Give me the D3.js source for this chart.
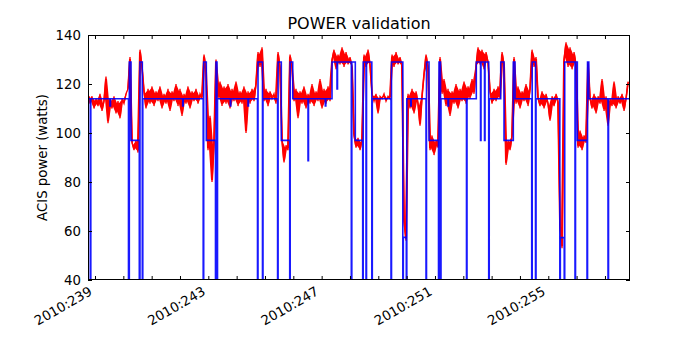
<!DOCTYPE html>
<html><head><meta charset="utf-8">
<script src="https://cdn.jsdelivr.net/npm/d3@7"></script>
<style>body{margin:0;background:#fff} svg{display:block} text{font-family:"DejaVu Sans",sans-serif;fill:#000}</style>
</head><body><svg id="c" width="700" height="350"></svg>
<script>
const title = "POWER validation";
const yLabel = "ACIS power (watts)";
const yTicks = [40, 60, 80, 100, 120, 140];
const dayTicks = [239,240,241,242,243,244,245,246,247,248,249,250,251,252,253,254,255,256,257];
const labelDays = [239, 243, 247, 251, 255];
const yearPrefix = "2010";
const xDomain = [238.753, 257.884];
const yDomain = [40, 140];

// measured power (red), sampled every redStep days from redStart
const redStart = 238.753, redStep = 0.0706;
const redPower = [
  116,112,115,110,114,111,116,109,113,123,104,114,110,115,108,113,106,114,112,116,
  118,131,
  96,93,97,92,
  134,127,
  117,110,118,112,119,111,117,113,119,110,116,112,118,109,117,113,120,111,118,107,116,112,119,110,117,113,118,112,116,114,
  132,126,
  93,107,80,96,
  130,
  114,121,111,119,112,120,110,118,113,121,111,117,112,119,100,117,112,118,113,120,
  133,127,135,
  113,118,111,117,114,116,112,
  133,127,
  97,88,95,93,
  132,127,
  113,118,106,117,112,119,110,116,112,120,111,117,113,122,110,118,112,119,113,
  130,134,126,132,128,135,127,133,128,131,
  127,99,
  94,98,93,97,
  132,127,134,128,
  116,113,116,108,115,114,116,113,115,114,
  132,127,133,128,131,127,
  64,56,
  116,110,118,108,117,112,103,115,124,
  132,127,
  93,99,91,97,94,
  131,
  116,122,111,118,107,117,112,120,110,118,113,121,112,119,114,122,116,
  127,135,128,134,126,133,129,
  117,112,118,113,119,114,
  133,128,
  87,97,93,99,
  131,
  112,119,110,117,113,120,111,118,
  134,127,131,
  114,111,117,110,116,112,105,115,111,116,113,
  62,53,
  130,137,127,135,126,133,128,
  94,101,93,99,96,
  129,
  114,110,116,108,115,112,122,109,115,103,114,111,121,110,115,112,116,109,114,121
];

// model power (blue), step function: value holds from each day until the next
const blueDays = [
  238.753,238.834,238.852,239.529,239.547,240.182,240.211,240.271,240.564,240.588,240.670,240.687,
  242.096,242.113,242.819,242.837,242.929,243.253,243.271,243.306,243.324,243.776,243.793,
  244.401,244.418,244.736,244.754,244.912,244.930,245.445,245.463,245.576,245.873,245.890,245.979,
  246.519,246.536,247.129,247.147,247.366,247.542,247.560,248.047,248.065,248.188,248.449,248.467,
  248.566,248.584,248.771,248.788,249.448,249.466,249.865,249.883,249.988,250.006,250.144,250.161,
  250.684,250.701,250.790,251.125,251.143,251.196,251.213,251.460,251.478,252.113,252.131,
  252.459,252.608,252.625,252.749,252.767,252.897,252.915,253.321,253.437,253.765,253.825,
  254.415,254.432,254.549,254.567,255.407,255.425,255.562,255.580,255.943,255.961,256.025,
  256.367,256.385,256.430,257.108,257.126,257.884
];
const bluePower = [
  114,0,114,111,114,0,129,97,0,129,0,114,
  111,114,0,129,97,0,129,0,114,111,114,
  111,114,0,129,0,114,0,129,97,0,129,114,
  88.7,114,111,114,129,118,129,0,129,97,0,129,
  0,129,0,114,0,129,0,57.4,0,114,111,114,
  0,129,97,0,129,0,114,111,114,0,114,
  129,97,129,97,129,0,114,129,97,129,114,
  0,129,0,114,0,57.3,0,129,0,129,97,
  0,129,114,0,114,114
];

const svg = d3.select("#c");
const m = {l: 88, r: 630, t: 35, b: 280};
const x = d3.scaleLinear().domain(xDomain).range([m.l, m.r]);
const y = d3.scaleLinear().domain(yDomain).range([m.b, m.t]);

svg.append("defs").append("clipPath").attr("id", "clip")
  .append("rect").attr("x", m.l).attr("y", m.t).attr("width", m.r - m.l).attr("height", m.b - m.t);

const plot = svg.append("g").attr("clip-path", "url(#clip)");

// red: dense noisy trace = core band between consecutive samples + the zigzag trace itself
const redPairs = redPower.map((v, i) => {
  const w = redPower[Math.min(i + 1, redPower.length - 1)];
  return {t: redStart + (i + 0.5) * redStep, lo: Math.min(v, w), hi: Math.max(v, w)};
});
const redArea = d3.area().x(d => x(d.t))
  .y0(d => Math.max(y(d.lo) - 2, (y(d.lo) + y(d.hi)) / 2))
  .y1(d => Math.min(y(d.hi) + 2, (y(d.lo) + y(d.hi)) / 2));
plot.append("path").datum(redPairs).attr("d", redArea).attr("fill", "#ff0000");
const redLine = d3.line().x((d, i) => x(redStart + i * redStep)).y(d => y(d));
plot.append("path").datum(redPower).attr("d", redLine)
  .attr("fill", "none").attr("stroke", "#ff0000").attr("stroke-width", 1.3);

const blueData = blueDays.map((d, i) => [d, bluePower[i]]);
const blueLine = d3.line().x(d => x(d[0])).y(d => y(d[1])).curve(d3.curveStepAfter);
plot.append("path").datum(blueData).attr("d", blueLine)
  .attr("fill", "none").attr("stroke", "#0000ff").attr("stroke-width", 1.6).attr("stroke-opacity", 0.9);

// frame
svg.append("rect").attr("x", m.l + 0.5).attr("y", m.t + 0.5).attr("width", m.r - m.l - 1).attr("height", m.b - m.t - 1)
  .attr("fill", "none").attr("stroke", "#000").attr("stroke-width", 1);

// axes with inward ticks
const tl = 4;
const yAxisL = d3.axisLeft(y).tickValues(yTicks).tickSizeInner(-tl).tickSizeOuter(0).tickPadding(7);
const gy = svg.append("g").attr("transform", `translate(${m.l},0)`).call(yAxisL);
gy.select(".domain").remove();
gy.selectAll("text").style("font-size", "13.3px").style("font-family", "DejaVu Sans");
const yAxisR = d3.axisRight(y).tickValues(yTicks).tickSizeInner(-tl).tickSizeOuter(0).tickFormat("");
const gyr = svg.append("g").attr("transform", `translate(${m.r},0)`).call(yAxisR);
gyr.select(".domain").remove();

const xAxisB = d3.axisBottom(x).tickValues(dayTicks).tickSizeInner(-tl).tickSizeOuter(0).tickFormat("");
const gx = svg.append("g").attr("transform", `translate(0,${m.b})`).call(xAxisB);
gx.select(".domain").remove();
const xAxisT = d3.axisTop(x).tickValues(dayTicks).tickSizeInner(-tl).tickSizeOuter(0).tickFormat("");
const gxt = svg.append("g").attr("transform", `translate(0,${m.t})`).call(xAxisT);
gxt.select(".domain").remove();
svg.selectAll(".tick line").attr("stroke", "#000");

// rotated date labels
svg.append("g").selectAll("text").data(labelDays).join("text")
  .attr("transform", d => `translate(${x(d) - 2},${m.b + 14}) rotate(-30)`)
  .attr("text-anchor", "end")
  .style("font-size", "13.3px")
  .text(d => `${yearPrefix}:${d}`);

svg.append("text").attr("x", (m.l + m.r) / 2).attr("y", 29).attr("text-anchor", "middle")
  .style("font-size", "16px").text(title);

svg.append("text").attr("transform", `translate(47,${(m.t + m.b) / 2}) rotate(-90)`)
  .attr("text-anchor", "middle").style("font-size", "13.3px").text(yLabel);
</script></body></html>
